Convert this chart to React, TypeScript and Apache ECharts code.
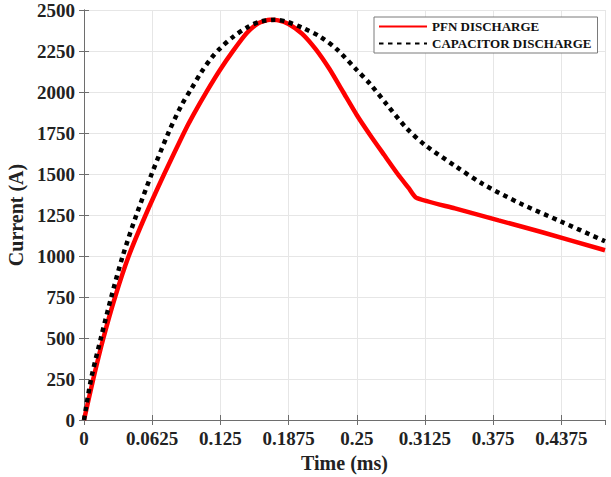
import React, { useEffect, useRef } from "react";
import * as echarts from "echarts";

const xTicks = [0, 0.0625, 0.125, 0.1875, 0.25, 0.3125, 0.375, 0.4375];
const xMax = 0.4775;
const yTicks = [0, 250, 500, 750, 1000, 1250, 1500, 1750, 2000, 2250, 2500];

const pfnName = "PFN DISCHARGE";
const pfnTime = [0, 0.0085, 0.0178, 0.0285, 0.041, 0.0565, 0.0735, 0.0915, 0.1002, 0.1124, 0.1246, 0.1368, 0.149, 0.1597, 0.1705, 0.178, 0.1875, 0.2, 0.2125, 0.225, 0.2375, 0.25, 0.2625, 0.275, 0.2875, 0.2975, 0.3045, 0.34, 0.38, 0.42, 0.4775];
const pfnCurrent = [0, 250, 500, 750, 1000, 1250, 1500, 1750, 1860, 2002, 2134, 2252, 2358, 2419, 2440, 2437, 2415, 2355, 2260, 2140, 2000, 1860, 1735, 1617, 1500, 1415, 1355, 1290, 1217, 1145, 1035];

const capName = "CAPACITOR DISCHARGE";
const capTime = [0, 0.0065, 0.0155, 0.025, 0.0355, 0.048, 0.062, 0.0773, 0.0895, 0.0987, 0.1078, 0.117, 0.1246, 0.1368, 0.1506, 0.1613, 0.175, 0.1857, 0.201, 0.2163, 0.2316, 0.25, 0.2621, 0.2774, 0.2957, 0.3125, 0.34, 0.366, 0.4, 0.4375, 0.4775];
const capCurrent = [0, 250, 500, 750, 1000, 1250, 1500, 1750, 1921, 2023, 2124, 2209, 2265, 2337, 2398, 2429, 2440, 2429, 2389, 2338, 2261, 2134, 2050, 1925, 1779, 1677, 1550, 1437, 1320, 1209, 1090];

const FONT = '"Liberation Serif", "Times New Roman", serif';
const AXIS_COLOR = "#6e6e6e";

export default function App() {
  const ref = useRef<HTMLDivElement>(null);
  useEffect(() => {
    if (!ref.current) return;
    const chart = echarts.init(ref.current, undefined, { renderer: "svg" });
    const pfnData = pfnTime.map((t, i) => [t, pfnCurrent[i]]);
    const capData = capTime.map((t, i) => [t, capCurrent[i]]);
    const fmtX = (v: number) => String(+v.toFixed(4));
    const fmtY = (v: number) => String(v);
    chart.setOption({
      animation: false,
      backgroundColor: "#ffffff",
      grid: { left: 84, right: 6, top: 10, bottom: 57, containLabel: false, outerBoundsMode: "none" },
      legend: {
        orient: "vertical",
        left: 374,
        top: 17,
        data: [pfnName, capName],
        itemWidth: 48,
        itemHeight: 12,
        itemGap: 4,
        padding: [3, 6, 3, 4],
        backgroundColor: "#ffffff",
        borderColor: "#7a7a7a",
        borderWidth: 1,
        borderRadius: 0,
        itemStyle: { opacity: 0 },
        textStyle: { fontFamily: FONT, fontWeight: "bold", fontSize: 13, color: "#111" },
      },
      xAxis: [
        {
          type: "value",
          min: 0,
          max: xMax,
          interval: xTicks[1] - xTicks[0],
          name: "Time (ms)",
          nameLocation: "middle",
          nameGap: 33,
          nameTextStyle: { fontFamily: FONT, fontWeight: "bold", fontSize: 20, color: "#222" },
          axisLine: { show: true, lineStyle: { color: AXIS_COLOR, width: 1 } },
          axisTick: { show: true, inside: true, length: 5, lineStyle: { color: AXIS_COLOR } },
          axisLabel: {
            showMaxLabel: false,
            margin: 9,
            formatter: fmtX,
            fontFamily: FONT,
            fontWeight: "bold",
            fontSize: 19,
            color: "#222",
          },
          splitLine: { show: true, lineStyle: { color: "#e6e6e6", width: 1 } },
        },
        {
          type: "value",
          position: "top",
          min: 0,
          max: xMax,
          interval: xTicks[1] - xTicks[0],
          axisLine: { show: true, lineStyle: { color: AXIS_COLOR, width: 1 } },
          axisTick: { show: true, inside: true, length: 5, lineStyle: { color: AXIS_COLOR } },
          axisLabel: { show: false },
          splitLine: { show: false },
        },
      ],
      yAxis: [
        {
          type: "value",
          min: yTicks[0],
          max: yTicks[yTicks.length - 1],
          interval: yTicks[1] - yTicks[0],
          name: "Current (A)",
          nameLocation: "middle",
          nameGap: 46,
          nameTextStyle: { fontFamily: FONT, fontWeight: "bold", fontSize: 20, color: "#222" },
          axisLine: { show: true, lineStyle: { color: AXIS_COLOR, width: 1 } },
          axisTick: { show: true, inside: true, length: 5, lineStyle: { color: AXIS_COLOR } },
          axisLabel: { margin: 9, formatter: fmtY, fontFamily: FONT, fontWeight: "bold", fontSize: 19, color: "#222" },
          splitLine: { show: true, lineStyle: { color: "#e6e6e6", width: 1 } },
        },
        {
          type: "value",
          position: "right",
          min: yTicks[0],
          max: yTicks[yTicks.length - 1],
          interval: yTicks[1] - yTicks[0],
          axisLine: { show: true, lineStyle: { color: AXIS_COLOR, width: 1 } },
          axisTick: { show: true, inside: true, length: 5, lineStyle: { color: AXIS_COLOR } },
          axisLabel: { show: false },
          splitLine: { show: false },
        },
      ],
      series: [
        {
          name: pfnName,
          type: "line",
          data: pfnData,
          smooth: 0.2,
          showSymbol: false,
          symbol: "none",
          lineStyle: { color: "#ff0000", width: 4.5 },
          itemStyle: { color: "#ff0000" },
          z: 3,
        },
        {
          name: capName,
          type: "line",
          data: capData,
          smooth: 0.3,
          showSymbol: false,
          symbol: "none",
          lineStyle: { color: "#000000", width: 4.5, type: [4.5, 4.5], cap: "butt" },
          itemStyle: { color: "#000000" },
          z: 4,
        },
      ],
    });
    return () => chart.dispose();
  }, []);
  return <div ref={ref} style={{ width: 611, height: 477, position: "absolute", left: 0, top: 0 }} />;
}
